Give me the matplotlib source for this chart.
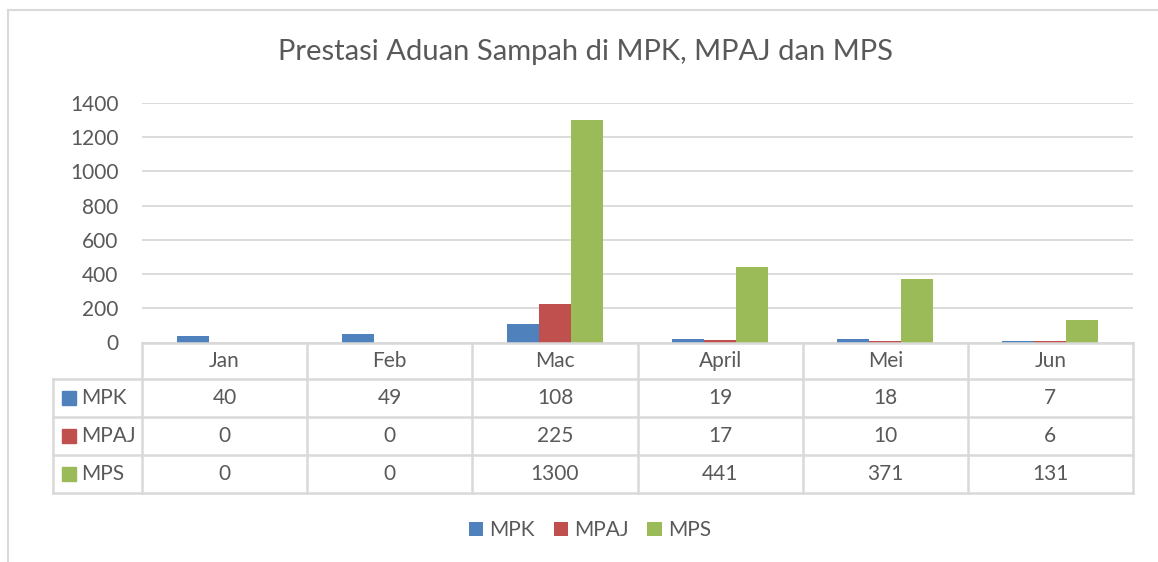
import matplotlib
matplotlib.use("Agg")
import matplotlib.pyplot as plt
from matplotlib.lines import Line2D
from matplotlib.patches import Rectangle

# data
months = ["Jan", "Feb", "Mac", "April", "Mei", "Jun"]
series = ["MPK", "MPAJ", "MPS"]
mpk = [40, 49, 108, 19, 18, 7]
mpaj = [0, 0, 225, 17, 10, 6]
mps = [0, 0, 1300, 441, 371, 131]
yticks = [0, 200, 400, 600, 800, 1000, 1200, 1400]

colors = ["#4F81BD", "#C0504D", "#9BBB59"]
text_col = "#595959"
line_col = "#D9D9D9"

plt.rcParams["font.family"] = ["Lato", "DejaVu Sans"]

W, H = 1158, 562
fig = plt.figure(figsize=(W / 100, H / 100), dpi=100)


def fx(px):
    return px / W


def fy(py):
    return 1 - py / H


# -------------------------------
# BAR AREA
# -------------------------------
left, right, top, bottom = 142, 1133, 103, 342.5
ax = fig.add_axes([fx(left), fy(bottom), fx(right - left), (bottom - top) / H])
bw = 0.194
all_vals = [mpk, mpaj, mps]
bars = []
for i, vals in enumerate(all_vals):
    xs = [k + (i - 1) * bw for k in range(len(months))]
    b = ax.bar(xs, vals, width=bw, color=colors[i], label=series[i], zorder=3)
    bars.append(b)

ax.set_xlim(-0.5, len(months) - 0.5)
ax.set_ylim(0, 1400)
ax.set_yticks(yticks)
ax.set_xticks([])
ax.grid(axis="y", color=line_col, linewidth=1.3, zorder=0)
ax.tick_params(axis="y", length=0, pad=17, labelsize=15, labelcolor=text_col)
for s in ax.spines.values():
    s.set_visible(False)

# -------------------------------
# DATA TABLE
# -------------------------------
label_w = (left - 53) / ((right - left) / len(months))
tab = fig.add_axes([fx(53), fy(493), fx(right - 53), (493 - 342.5) / H])
tab.set_xlim(-0.5 - label_w, len(months) - 0.5)
row_edges = [342.5, 379, 417, 455, 493]
tab.set_ylim(row_edges[-1], row_edges[0])
tab.axis("off")

lw = 1.8
# horizontal lines
tab.add_line(Line2D([-0.5, len(months) - 0.5], [row_edges[0]] * 2, color=line_col, lw=lw, clip_on=False))
for y in row_edges[1:]:
    tab.add_line(Line2D([-0.5 - label_w, len(months) - 0.5], [y, y], color=line_col, lw=lw, clip_on=False))
# vertical lines
for k in range(len(months) + 1):
    tab.add_line(Line2D([k - 0.5] * 2, [row_edges[0], row_edges[-1]], color=line_col, lw=lw, clip_on=False))
tab.add_line(Line2D([-0.5 - label_w] * 2, [row_edges[1], row_edges[-1]], color=line_col, lw=lw, clip_on=False))

fs = 15
for k, m in enumerate(months):
    tab.text(k, (row_edges[0] + row_edges[1]) / 2, m, ha="center", va="center",
             fontsize=fs, color=text_col)
cat_px = (right - left) / len(months)
for i, (name, vals) in enumerate(zip(series, all_vals)):
    yc = (row_edges[i + 1] + row_edges[i + 2]) / 2
    x0 = -0.5 - label_w + 9 / cat_px
    tab.add_patch(Rectangle((x0, yc - 7), 14 / cat_px, 14, color=colors[i], clip_on=False))
    tab.text(x0 + 19 / cat_px, yc, name, ha="left", va="center", fontsize=fs, color=text_col)
    for k, v in enumerate(vals):
        tab.text(k, yc, str(v), ha="center", va="center", fontsize=fs, color=text_col)

# -------------------------------
# TITLE, LEGEND, BORDER
# -------------------------------
fig.text(fx(585), fy(52), "Prestasi Aduan Sampah di MPK, MPAJ dan MPS",
         ha="center", va="center", fontsize=21, color=text_col)

fig.legend(handles=[b[0] for b in bars], labels=series, loc="center",
           bbox_to_anchor=(fx(590), fy(530)), ncol=3, frameon=False,
           fontsize=fs, labelcolor=text_col, handlelength=0.68, handleheight=0.68,
           handletextpad=0.3, columnspacing=0.9)

fig.add_artist(Line2D([fx(8), 1], [fy(10), fy(10)], color=line_col, lw=1.5))
fig.add_artist(Line2D([fx(8), fx(8)], [fy(10), 0], color=line_col, lw=1.5))

fig.savefig("out.png", dpi=100, facecolor="white")
